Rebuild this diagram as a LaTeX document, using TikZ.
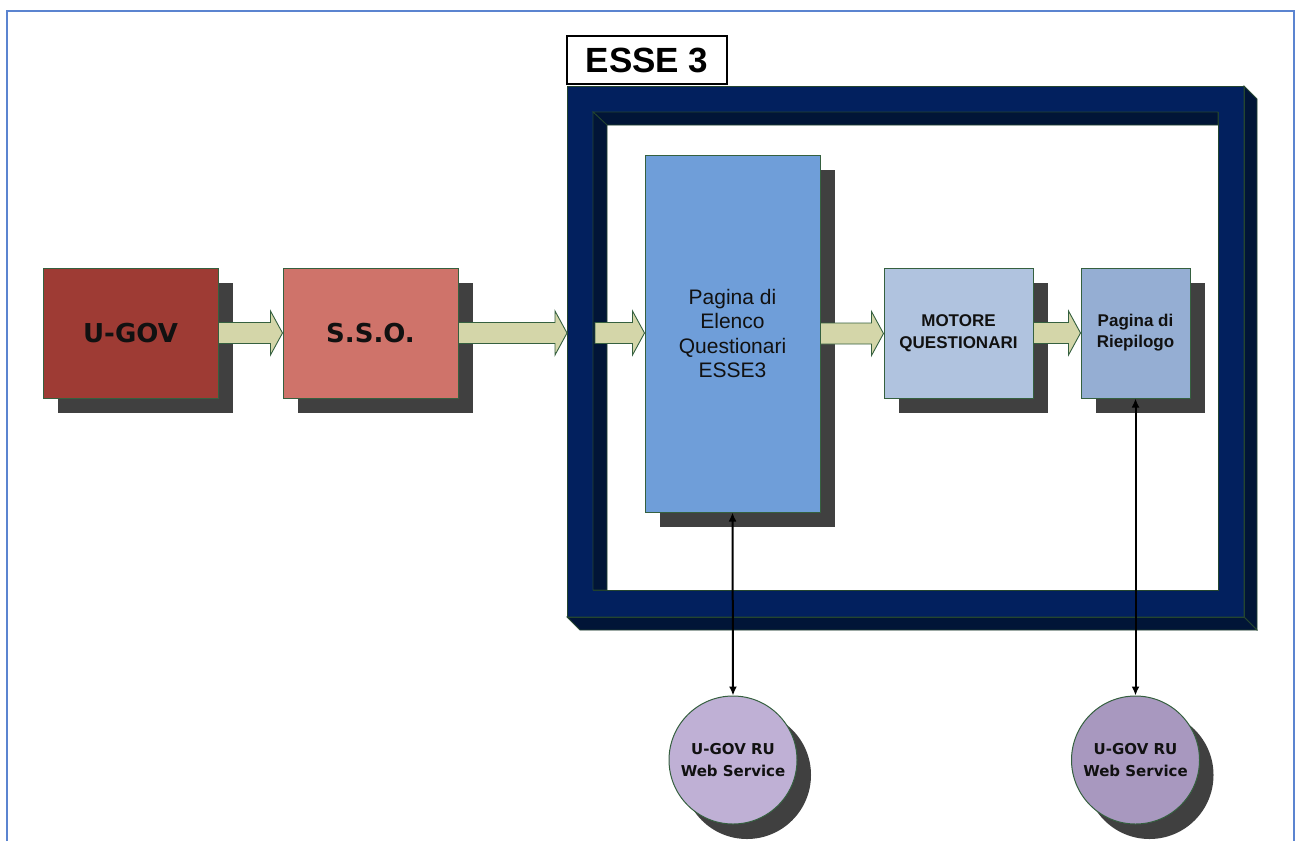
\documentclass[tikz,border=0pt]{standalone}
\usepackage{fontspec}
\setmainfont{Liberation Sans}
\newfontfamily\dejavu{DejaVu Sans}
\usetikzlibrary{shadows,calc,arrows.meta}
\definecolor{pageblue}{HTML}{5B84D0}
\definecolor{boxborder}{HTML}{35603F}
\definecolor{shadowgray}{HTML}{404040}
\definecolor{ugovred}{HTML}{9E3B34}
\definecolor{ssored}{HTML}{CF736A}
\definecolor{paginablue}{HTML}{6F9ED9}
\definecolor{motoreblue}{HTML}{B0C3DF}
\definecolor{riepblue}{HTML}{95AED3}
\definecolor{wsone}{HTML}{BFB0D5}
\definecolor{wstwo}{HTML}{A898BF}
\definecolor{arrowfill}{HTML}{D4D6A9}
\definecolor{navyface}{HTML}{02205E}
\definecolor{navydark}{HTML}{011537}
\definecolor{frameline}{HTML}{24452F}
\definecolor{txt}{HTML}{111111}
\begin{document}
\begin{tikzpicture}[x=1pt,y=-1pt,
  pageframe/.style={draw=pageblue,line width=2.2pt},
  shadowed/.style={drop shadow={shadow xshift=15pt,shadow yshift=-15pt,opacity=1,fill=shadowgray}},
  boxnode/.style={draw=boxborder,line width=1pt,inner sep=0pt,text=txt,align=center,shadowed},
  wsnode/.style={circle,draw=boxborder,line width=1pt,minimum size=128pt,inner sep=0pt,text=txt,align=center,
     font=\dejavu\bfseries\fontsize{15}{22}\selectfont,
     drop shadow={shadow xshift=14pt,shadow yshift=-15pt,opacity=1,fill=shadowgray}},
  blockarrow/.style={fill=arrowfill,draw=boxborder,line width=0.9pt,
     to path={let \p1=(\tikztostart), \p2=(\tikztotarget) in
       (\x1,\y1+10.5pt) -- (\x2-12pt,\y1+10.5pt) -- (\x2-12pt,\y1+22pt) -- (\x2,\y1)
       -- (\x2-12pt,\y1-22pt) -- (\x2-12pt,\y1-10.5pt) -- (\x1,\y1-10.5pt) -- cycle}},
  linkarrow/.style={draw=black,line width=2pt,{Latex[length=9pt,width=8pt]}-{Latex[length=9pt,width=8pt]}},
  framepart/.style={line width=0.8pt,draw=frameline}
]
\useasboundingbox (0,0) rectangle (1295,841);
% page border
\draw[pageframe] (7,841) -- (7,11) -- (1294,11) -- (1294,841);

% ESSE 3 frame
\fill[navyface,even odd rule,framepart] (567,86) rectangle (1244,617) (593,112) rectangle (1218,590);
\filldraw[navydark,framepart] (593,112) -- (1218,112) -- (1218,125) -- (607,125) -- cycle;
\filldraw[navydark,framepart] (593,112) -- (607,125) -- (607,590) -- (593,590) -- cycle;
\filldraw[navydark,framepart] (1244,86) -- (1257,99) -- (1257,630) -- (1244,617) -- cycle;
\filldraw[navydark,framepart] (567,617) -- (1244,617) -- (1257,630) -- (580,630) -- cycle;
\draw[framepart] (567,86) rectangle (1244,617);

\node[draw=black,line width=2pt,fill=white,minimum width=160pt,minimum height=48pt,inner sep=0pt,
      font=\bfseries\fontsize{35}{40}\selectfont] (esse) at (647,60) {ESSE 3};

\coordinate (frameW) at (567,333);
\coordinate (innerW) at (595,333);

% boxes
\node[boxnode,fill=ugovred,minimum width=175pt,minimum height=130pt,
      font=\dejavu\bfseries\fontsize{26}{30}\selectfont] (ugov) at (130.5,333) {U-GOV};
\node[boxnode,fill=ssored,minimum width=175pt,minimum height=130pt,
      font=\dejavu\bfseries\fontsize{26}{30}\selectfont] (sso) at (370.5,333) {S.S.O.};
\node[boxnode,fill=paginablue,minimum width=175pt,minimum height=357pt,
      font=\fontsize{21}{24.5}\selectfont] (pagina) at (732.5,333.5) {Pagina di\\Elenco\\Questionari\\ESSE3};
\node[boxnode,fill=motoreblue,minimum width=149pt,minimum height=130pt,
      font=\bfseries\fontsize{17}{22}\selectfont] (motore) at (958.5,333) {MOTORE\\QUESTIONARI};
\node[boxnode,fill=riepblue,minimum width=109pt,minimum height=130pt,
      font=\bfseries\fontsize{17}{21}\selectfont] (riep) at (1135.5,333) {Pagina di\\Riepilogo};

% web service circles
\node[wsnode,fill=wsone] (ws1) at (733,760) {U-GOV RU\\Web Service};
\node[wsnode,fill=wstwo] (ws2) at (1135.5,760) {U-GOV RU\\Web Service};

% block arrows
\draw[blockarrow] (ugov.east) to (sso.west);
\draw[blockarrow] (sso.east) to (frameW);
\draw[blockarrow] (innerW) to (pagina.west);
\draw[blockarrow] (pagina.east) to (motore.west);
\draw[blockarrow] (motore.east) to (riep.west);

% links
\draw[linkarrow] (pagina.south) -- (ws1.north);
\draw[linkarrow] (riep.south) -- (ws2.north);
\end{tikzpicture}
\end{document}
